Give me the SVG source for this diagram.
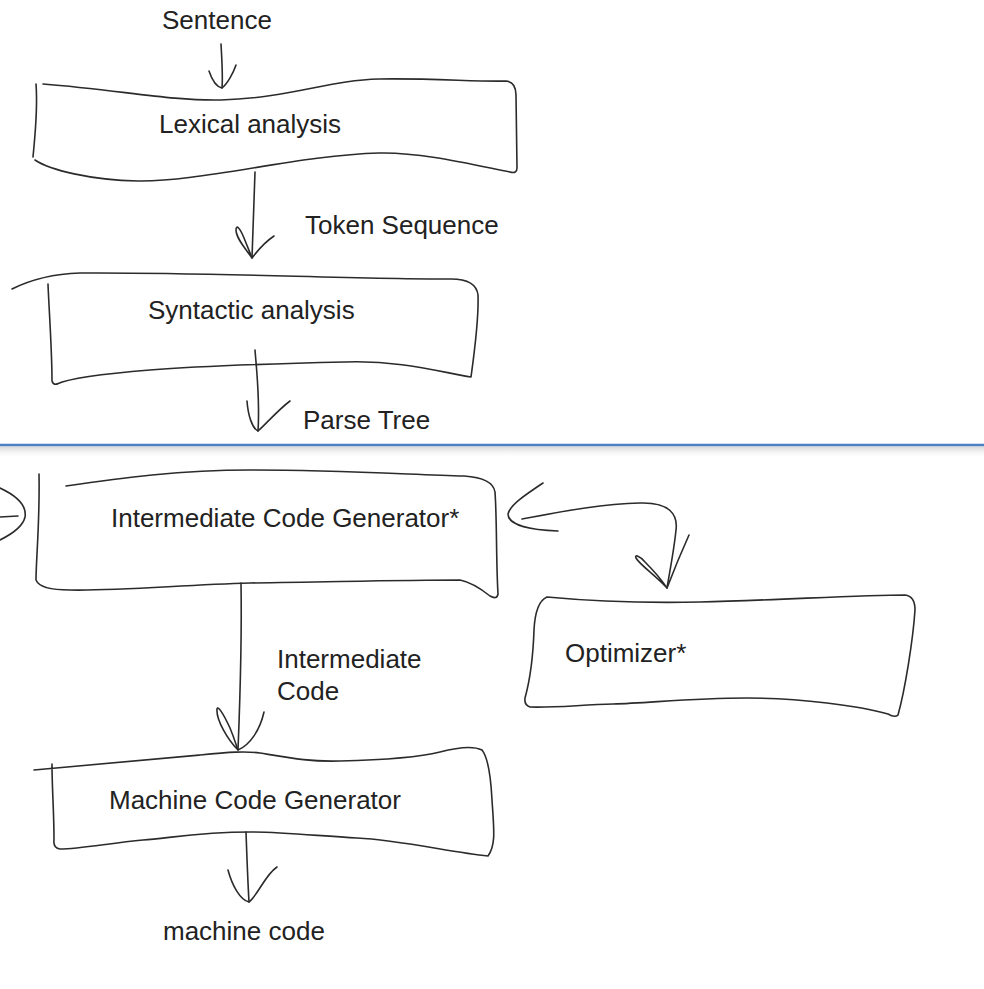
<svg xmlns="http://www.w3.org/2000/svg" width="984" height="989" viewBox="0 0 984 989">
<defs>
<style>
.ink{fill:none;stroke:#2b2b2b;stroke-width:1.6;stroke-linecap:round;stroke-linejoin:round}
.lbl{font-family:"Liberation Sans",Arial,sans-serif;font-size:26px;fill:#222}
</style>
<linearGradient id="shadow" x1="0" y1="0" x2="0" y2="1">
<stop offset="0" stop-color="#d6d6d6"/>
<stop offset="1" stop-color="#ffffff" stop-opacity="0"/>
</linearGradient>
</defs>
<rect width="984" height="989" fill="#fff"/>

<g id="divider">
<rect x="0" y="446.5" width="984" height="12" fill="url(#shadow)"/>
<line x1="0" y1="445" x2="984" y2="445" stroke="#4a7fc1" stroke-width="2.5"/>
</g>

<g id="sentence">
<text class="lbl" x="162" y="29">Sentence</text>
</g>

<g id="lexical">
<path class="ink" d="M43 84 C120 90 170 101 221 100 C290 98 330 80 379 79 C430 78 480 82 506 81 Q516 82 516 95 L517 168 Q517 174 510 172 C470 164 420 152 379 153 C300 155 200 182 138 181 C90 180 50 170 35 160"/>
<path class="ink" d="M36 84 C38 110 35 135 33 157"/>
<text class="lbl" x="159" y="133">Lexical analysis</text>
</g>

<g id="token-label">
<text class="lbl" x="305" y="234">Token Sequence</text>
</g>

<g id="syntactic">
<path class="ink" d="M12 289 C30 280 50 274 80 273 C200 272 350 279 448 279 Q476 278 478 295 C479 320 474 355 471 377 C440 372 400 360 345 362 C260 364 200 366 150 370 C100 374 70 378 57 384"/>
<path class="ink" d="M48 284 C49 310 52 350 52 381 Q53 385 57 384"/>
<text class="lbl" x="148" y="319">Syntactic analysis</text>
</g>

<g id="parse-label">
<text class="lbl" x="303" y="429">Parse Tree</text>
</g>

<g id="icg">
<path class="ink" d="M66 486 C120 478 180 470 250 470 C330 470 400 474 464 476 Q493 478 495 492 C497 520 496 560 498 594 Q497 600 490 596 C480 588 470 582 460 580 C400 580 330 582 250 583 C180 585 120 591 70 590 Q40 590 36 580 C36 560 40 520 39 474"/>
<text class="lbl" x="111" y="527">Intermediate Code Generator*</text>
</g>

<g id="optimizer">
<path class="ink" d="M547 597 C600 602 650 603 700 602 C780 600 860 595 905 595 Q915 596 915 610 C913 640 905 690 898 715 Q895 718 888 714 C860 706 800 698 747 698 C690 698 650 703 613 704 C580 705 550 708 530 707 Q524 705 525 698 C530 680 533 660 534 630 C535 610 540 600 547 597 Z"/>
<text class="lbl" x="565" y="662">Optimizer*</text>
</g>

<g id="ic-label">
<text class="lbl" x="277" y="668">Intermediate</text>
<text class="lbl" x="277" y="700">Code</text>
</g>

<g id="mcg">
<path class="ink" d="M34 770 C80 766 140 760 200 755 C230 752 245 751 260 753 C290 758 310 762 340 761 C380 760 420 757 440 752 Q470 744 482 750 Q490 760 492 800 C494 830 496 845 488 856 C450 852 400 840 357 838 C320 836 280 832 250 832 C200 832 170 838 143 840 C110 843 80 849 60 849 Q53 848 54 840 C54 810 52 790 52 764"/>
<text class="lbl" x="109" y="809">Machine Code Generator</text>
</g>

<g id="machine-code">
<text class="lbl" x="163" y="940">machine code</text>
</g>

<g id="connectors">
<path class="ink" d="M221 44 C222 62 223 76 222 88"/>
<path class="ink" d="M209 71 C212 80 217 87 222 88 C227 84 233 74 236 65"/>

<path class="ink" d="M255 172 C254 200 253 230 252 258"/>
<path class="ink" d="M252 258 C245 248 236 238 236 230 C236 224 240 228 244 238 C248 248 251 255 252 258 C258 250 265 242 274 236"/>

<path class="ink" d="M255 350 C257 375 260 400 258 431"/>
<path class="ink" d="M247 401 C248 415 252 428 258 431 C265 425 278 410 290 401"/>

<path class="ink" d="M0 488 C15 495 27 505 25 517 C23 527 10 535 0 540"/>
<path class="ink" d="M0 517 L18 516"/>

<path class="ink" d="M522 519 C560 512 600 504 640 503 C670 502 678 515 676 530 C674 550 670 570 667 588"/>
<path class="ink" d="M543 483 C525 495 510 505 508 514 C508 525 530 530 558 531"/>
<path class="ink" d="M689 535 C680 555 672 575 667 588 C655 575 640 565 636 558 C634 554 640 556 645 562 C655 572 663 582 667 588"/>

<path class="ink" d="M241 583 C242 640 240 700 238 750"/>
<path class="ink" d="M238 750 C228 740 216 720 217 709 C218 705 224 715 230 728 C235 740 237 748 238 750 C250 745 260 730 264 712"/>

<path class="ink" d="M246 832 C247 860 248 885 249 902"/>
<path class="ink" d="M228 870 C232 885 240 900 249 902 C258 895 265 875 277 867"/>
</g>
</svg>
